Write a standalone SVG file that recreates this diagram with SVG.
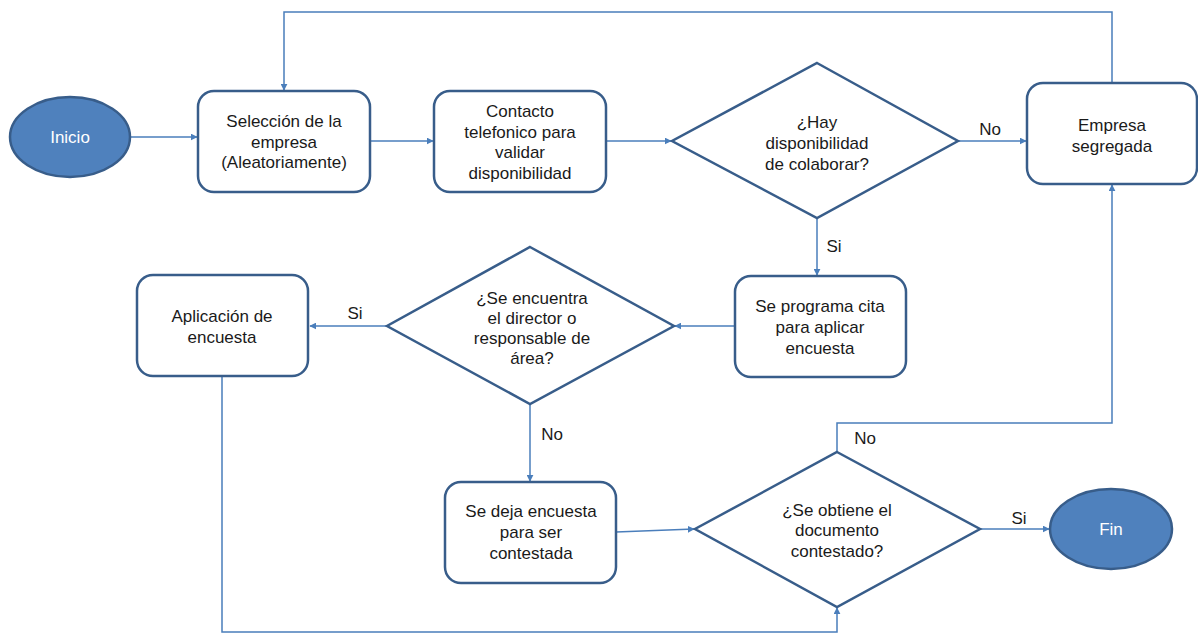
<svg xmlns="http://www.w3.org/2000/svg" width="1198" height="633" viewBox="0 0 1198 633">
<style>
.box{fill:#fff;stroke:#385d8a;stroke-width:2.5}
.term{fill:#4f81bd;stroke:#385d8a;stroke-width:2.5}
.t{font-family:"Liberation Sans",Arial,sans-serif;font-size:17px;fill:#1a1a1a;text-anchor:middle}
.tw{font-family:"Liberation Sans",Arial,sans-serif;font-size:17px;fill:#fff;text-anchor:middle}
.c{fill:none;stroke:#4a7ebb;stroke-width:1.5}
</style>
<defs>
<marker id="a" viewBox="0 0 10 10" refX="9" refY="5" markerWidth="7" markerHeight="7" markerUnits="userSpaceOnUse" orient="auto"><path d="M0,0 L10,5 L0,10 z" fill="#4a7ebb"/></marker>
</defs>
<rect width="1198" height="633" fill="#fff"/>
<g id="connectors">
<line class="c" x1="131" y1="137" x2="197" y2="137" marker-end="url(#a)"/>
<line class="c" x1="370" y1="141" x2="433" y2="141" marker-end="url(#a)"/>
<line class="c" x1="606" y1="141" x2="671" y2="141" marker-end="url(#a)"/>
<line class="c" x1="958" y1="141" x2="1026" y2="141" marker-end="url(#a)"/>
<polyline class="c" points="1112,83 1112,12 284,12 284,90" marker-end="url(#a)"/>
<line class="c" x1="817" y1="218" x2="817" y2="275" marker-end="url(#a)"/>
<line class="c" x1="735" y1="326" x2="675" y2="326" marker-end="url(#a)"/>
<line class="c" x1="387" y1="326" x2="310" y2="326" marker-end="url(#a)"/>
<polyline class="c" points="222,376 222,632 837,632 837,608" marker-end="url(#a)"/>
<line class="c" x1="530" y1="404" x2="530" y2="481" marker-end="url(#a)"/>
<line class="c" x1="616" y1="532" x2="694" y2="529" marker-end="url(#a)"/>
<polyline class="c" points="837,452 837,423 1112,423 1112,185" marker-end="url(#a)"/>
<line class="c" x1="980" y1="529" x2="1049" y2="529" marker-end="url(#a)"/>
<text class="t" x="990" y="135">No</text>
<text class="t" x="834" y="252">Si</text>
<text class="t" x="355" y="319">Si</text>
<text class="t" x="552" y="440">No</text>
<text class="t" x="865" y="444">No</text>
<text class="t" x="1019" y="524">Si</text>
</g>
<g id="inicio">
<ellipse class="term" cx="70" cy="137" rx="60" ry="40"/>
<text class="tw" x="70" y="143">Inicio</text>
</g>
<g id="seleccion">
<rect class="box" x="198" y="91" width="172" height="101" rx="16"/>
<text class="t" x="284" y="127">Selección de la</text>
<text class="t" x="284" y="148">empresa</text>
<text class="t" x="284" y="168">(Aleatoriamente)</text>
</g>
<g id="contacto">
<rect class="box" x="434" y="91" width="172" height="101" rx="16"/>
<text class="t" x="520" y="117">Contacto</text>
<text class="t" x="520" y="138">telefonico para</text>
<text class="t" x="520" y="158">validar</text>
<text class="t" x="520" y="179">disponibilidad</text>
</g>
<g id="disponibilidad">
<polygon class="box" points="817,63 958,141 817,218 672,141"/>
<text class="t" x="817" y="128">¿Hay</text>
<text class="t" x="817" y="149">disponibilidad</text>
<text class="t" x="817" y="170">de colaborar?</text>
</g>
<g id="empresa">
<rect class="box" x="1027" y="83" width="170" height="101" rx="16"/>
<text class="t" x="1112" y="131">Empresa</text>
<text class="t" x="1112" y="152">segregada</text>
</g>
<g id="programa">
<rect class="box" x="735" y="276" width="171" height="101" rx="16"/>
<text class="t" x="820" y="312">Se programa cita</text>
<text class="t" x="820" y="333">para aplicar</text>
<text class="t" x="820" y="354">encuesta</text>
</g>
<g id="encuentra">
<polygon class="box" points="530,247 674,326 530,404 387,326"/>
<text class="t" x="532" y="304">¿Se encuentra</text>
<text class="t" x="532" y="324">el director o</text>
<text class="t" x="532" y="344">responsable de</text>
<text class="t" x="532" y="364">área?</text>
</g>
<g id="aplicacion">
<rect class="box" x="137" y="275" width="171" height="101" rx="16"/>
<text class="t" x="222" y="322">Aplicación de</text>
<text class="t" x="222" y="343">encuesta</text>
</g>
<g id="deja">
<rect class="box" x="445" y="482" width="171" height="101" rx="16"/>
<text class="t" x="531" y="517">Se deja encuesta</text>
<text class="t" x="531" y="538">para ser</text>
<text class="t" x="531" y="559">contestada</text>
</g>
<g id="obtiene">
<polygon class="box" points="837,452 980,529 837,607 695,529"/>
<text class="t" x="837" y="516">¿Se obtiene el</text>
<text class="t" x="837" y="536">documento</text>
<text class="t" x="837" y="557">contestado?</text>
</g>
<g id="fin">
<ellipse class="term" cx="1111" cy="529" rx="61" ry="40"/>
<text class="tw" x="1111" y="535">Fin</text>
</g>
</svg>
